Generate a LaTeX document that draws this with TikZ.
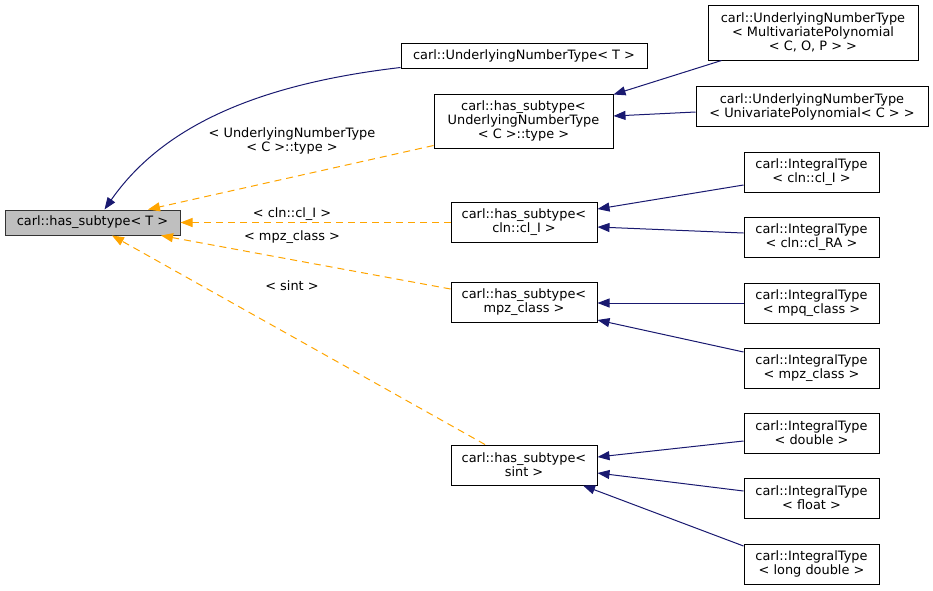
\documentclass[tikz,border=0pt]{standalone}
\usepackage{fontspec}
\setmainfont{DejaVu Sans}
\usetikzlibrary{arrows.meta,calc}
\definecolor{navyedge}{HTML}{191970}
\definecolor{orangeedge}{HTML}{FFA500}
\definecolor{rootfill}{HTML}{BFBFBF}
\begin{document}
\begin{tikzpicture}[x=1pt,y=-1pt,
  every node/.style={font=\fontsize{12.9}{14}\selectfont},
  box/.style={draw=black, line width=1pt, fill=white, inner sep=0pt, align=center},
  rootbox/.style={box, draw=black!80, fill=rootfill},
  inh/.style={draw=navyedge, line width=1pt, -{Triangle[length=12pt,width=9pt]}},
  tmpl/.style={draw=orangeedge, line width=1pt, dash pattern=on 7pt off 5pt, -{Triangle[length=12pt,width=9pt]}},
  lbl/.style={inner sep=0pt, align=center}]
\useasboundingbox (0,0) rectangle (933,590);
% nodes
\node[rootbox, minimum width=175pt, minimum height=25pt] (root) at (92.5,222.5) {carl::has\_subtype< T >};
\node[box, minimum width=246pt, minimum height=25pt] (unt) at (524,55.5) {carl::UnderlyingNumberType< T >};
\node[box, minimum width=179pt, minimum height=54pt] (hsU) at (523.5,121) {carl::has\_subtype<\\UnderlyingNumberType\\< C >::type >};
\node[box, minimum width=210pt, minimum height=55pt] (multi) at (813,32.5) {carl::UnderlyingNumberType\\< MultivariatePolynomial\\< C, O, P > >};
\node[box, minimum width=232pt, minimum height=40pt] (uni) at (812,106.5) {carl::UnderlyingNumberType\\< UnivariatePolynomial< C > >};
\node[box, minimum width=146pt, minimum height=40pt] (hsI) at (524,222.5) {carl::has\_subtype<\\cln::cl\_I >};
\node[box, minimum width=146pt, minimum height=40pt] (hsM) at (524,302.5) {carl::has\_subtype<\\mpz\_class >};
\node[box, minimum width=146pt, minimum height=40pt] (hsS) at (524,465) {carl::has\_subtype<\\sint >};
\node[box, minimum width=135pt, minimum height=40pt] (icl) at (811.5,172) {carl::IntegralType\\< cln::cl\_I >};
\node[box, minimum width=135pt, minimum height=40pt] (ira) at (811.5,237) {carl::IntegralType\\< cln::cl\_RA >};
\node[box, minimum width=135pt, minimum height=40pt] (imq) at (811.5,303) {carl::IntegralType\\< mpq\_class >};
\node[box, minimum width=135pt, minimum height=40pt] (imz) at (811.5,368) {carl::IntegralType\\< mpz\_class >};
\node[box, minimum width=135pt, minimum height=40pt] (idb) at (811.5,433) {carl::IntegralType\\< double >};
\node[box, minimum width=135pt, minimum height=40pt] (ifl) at (811.5,498) {carl::IntegralType\\< float >};
\node[box, minimum width=135pt, minimum height=40pt] (ild) at (811.5,564) {carl::IntegralType\\< long double >};
% inheritance edges
\draw[inh] ([yshift=1pt]unt.south west) .. controls (250,85) and (160,130) .. ([xshift=12pt]root.north);
\draw[inh] ([xshift=14pt]multi.south west) -- ([yshift=-1pt]hsU.north east);
\draw[inh] ([yshift=-5.5pt]uni.west) -- ([yshift=5pt]hsU.east);
\draw[inh] ([yshift=-13pt]icl.west) -- ([yshift=13.5pt]hsI.east);
\draw[inh] ([yshift=4pt]ira.west) -- ([yshift=-4.5pt]hsI.east);
\draw[inh] (imq.west) -- (imq.west -| hsM.east);
\draw[inh] ([yshift=16pt]imz.west) -- ([yshift=-17.5pt]hsM.east);
\draw[inh] ([yshift=-8pt]idb.west) -- ([yshift=8pt]hsS.east);
\draw[inh] ([yshift=7pt]ifl.west) -- ([yshift=-8pt]hsS.east);
\draw[inh] ([yshift=18pt]ild.west) -- ([xshift=59pt]hsS.south);
% template edges
\draw[tmpl] ([yshift=3pt]hsU.south west) -- ([xshift=55.5pt]root.north);
\draw[tmpl] (hsI.west) -- (root.east);
\draw[tmpl] ([yshift=13.5pt]hsM.west) -- ([xshift=68.5pt]root.south);
\draw[tmpl] ([xshift=-39pt]hsS.north) -- ([xshift=19.5pt]root.south);
% labels
\node[lbl] (l1) at (292,141) {< UnderlyingNumberType\\< C >::type >};
\node[lbl] (l2) at (292,214) {< cln::cl\_I >};
\node[lbl] (l3) at (292,237) {< mpz\_class >};
\node[lbl] (l4) at (292,286) {< sint >};
\end{tikzpicture}
\end{document}
